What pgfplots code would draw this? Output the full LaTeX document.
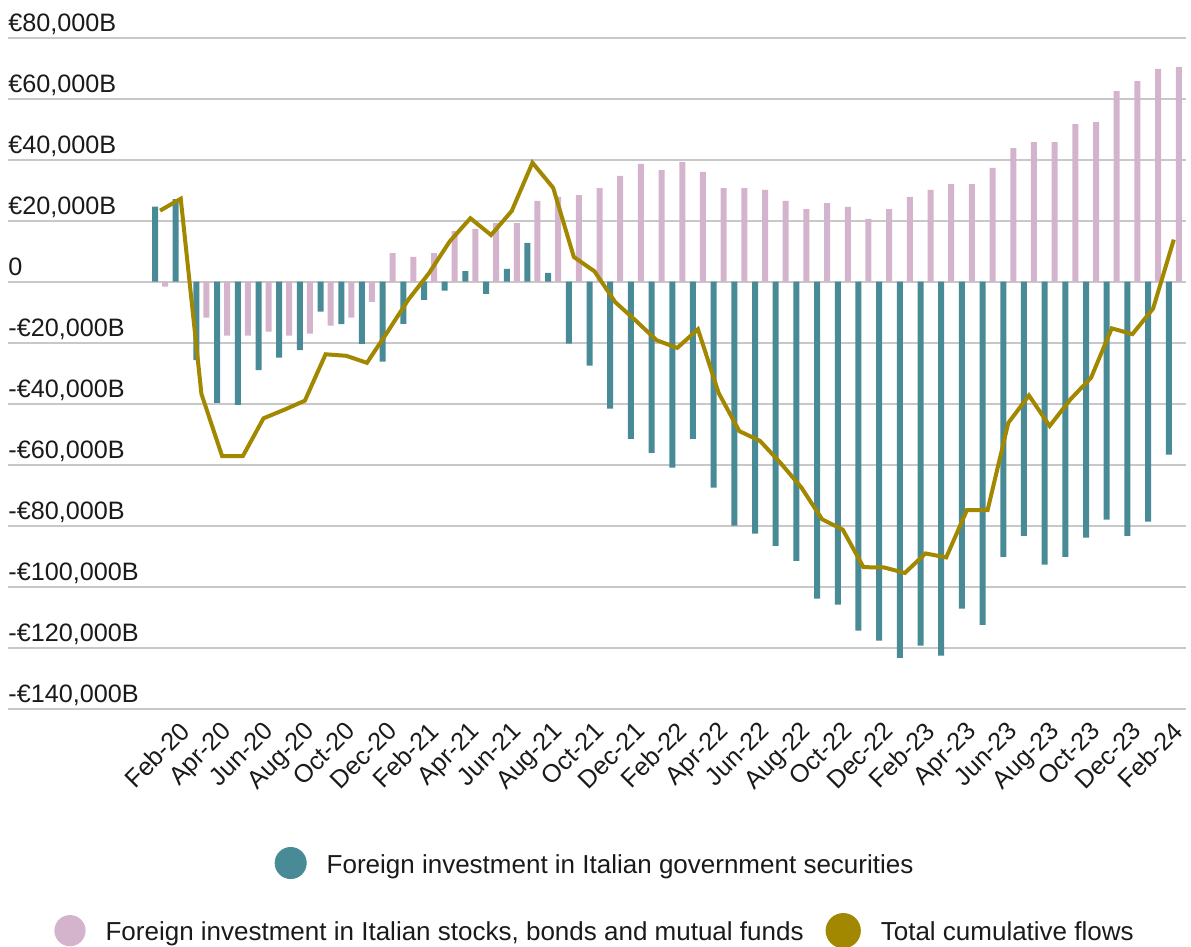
\documentclass[border=0pt]{standalone}
\usepackage{fontspec}
\setmainfont{Liberation Sans}
\usepackage{pgfplots}
\usepackage{pgfplotstable}
\pgfplotsset{compat=1.18}
\definecolor{tealc}{HTML}{488B97}
\definecolor{pinkc}{HTML}{D4B3CC}
\definecolor{olivec}{HTML}{A18800}
\definecolor{gridc}{HTML}{C8C8C8}
\definecolor{textc}{HTML}{1A1A1A}

\pgfplotstableread{
i teal pink total
0 24600 -1600 23300
1 27100 0 27200
2 -25700 -11800 -36800
3 -39700 -17700 -57200
4 -40400 -17700 -57200
5 -29000 -16400 -44800
6 -24900 -17700 -42000
7 -22400 -17000 -39000
8 -9800 -14400 -23800
9 -13900 -11800 -24300
10 -20400 -6600 -26600
11 -26200 9400 -16400
12 -13800 8100 -5900
13 -6000 9400 2800
14 -2900 16600 13200
15 3500 17300 20800
16 -4000 19200 15300
17 4200 19200 23200
18 12700 26500 39000
19 2900 27800 30800
20 -20300 28400 8100
21 -27500 30700 3400
22 -41600 34700 -6700
23 -51500 38600 -12800
24 -56100 36600 -19200
25 -61000 39200 -21700
26 -51500 36000 -15600
27 -67500 30700 -36500
28 -80000 30700 -49000
29 -82600 30100 -52200
30 -86600 26500 -59500
31 -91500 23800 -67500
32 -103900 25800 -77900
33 -105900 24500 -81300
34 -114400 20600 -93600
35 -117700 23800 -93700
36 -123300 27800 -95500
37 -119300 30100 -89100
38 -122600 32000 -90400
39 -107200 32000 -74900
40 -112500 37300 -74900
41 -90200 43800 -46300
42 -83300 45800 -37300
43 -92800 45800 -47300
44 -90200 51700 -38600
45 -83900 52400 -31500
46 -78000 62500 -15300
47 -83300 65800 -17200
48 -78700 69800 -8800
49 -56700 70400 13800
}\datatable

\pgfplotsset{
  mylegend/.style={
    draw=none, fill=none, inner sep=0pt, outer sep=0pt,
    font=\fontsize{13}{15}\selectfont, text=textc,
    nodes={inner sep=0pt},
    /tikz/every odd column/.append style={column sep=10pt},
    /tikz/every even column/.append style={column sep=11pt},
  }
}

\begin{document}
\begin{tikzpicture}
\useasboundingbox (0,0) rectangle (595.5pt,473.5pt);
\begin{axis}[
  at={(4pt,119.15pt)}, anchor=south west,
  scale only axis, width=589pt, height=335.5pt,
  xmin=-7.35, xmax=49.59, ymin=-140000, ymax=80000,
  enlargelimits=false,
  scaled y ticks=false,
  axis line style={draw=none},
  major tick length=0pt, tick style={draw=none},
  ymajorgrids, grid style={draw=gridc, line width=1pt},
  ytick={-140000,-120000,-100000,-80000,-60000,-40000,-20000,0,20000,40000,60000,80000},
  yticklabels={{-€140,000B},{-€120,000B},{-€100,000B},{-€80,000B},{-€60,000B},{-€40,000B},{-€20,000B},{0},{€20,000B},{€40,000B},{€60,000B},{€80,000B}},
  xtick={1,3,...,49},
  xticklabels={Feb-20,Apr-20,Jun-20,Aug-20,Oct-20,Dec-20,Feb-21,Apr-21,Jun-21,Aug-21,Oct-21,Dec-21,Feb-22,Apr-22,Jun-22,Aug-22,Oct-22,Dec-22,Feb-23,Apr-23,Jun-23,Aug-23,Oct-23,Dec-23,Feb-24},
  tick label style={font=\fontsize{12.6}{15}\selectfont, text=textc},
  yticklabel style={anchor=base west, inner sep=0pt, yshift=3pt},
  xticklabel style={xshift=-1pt, yshift=-5.5pt, rotate=45, anchor=north east, inner sep=0pt},
  legend columns=2,
  legend style={mylegend, at={(axis description cs:0.4975,-0.3308)}, anchor=center},
]
\addplot[ybar, bar width=3pt, bar shift=-2.5pt, fill=tealc, draw=none, forget plot] table[x=i, y=teal] {\datatable};
\addplot[ybar, bar width=3pt, bar shift=2.5pt, fill=pinkc, draw=none,
  legend image code/.code={\fill[pinkc] (7.8pt,1.2pt) circle[radius=7.8pt];}] table[x=i, y=pink] {\datatable};
\addlegendentry{Foreign investment in Italian stocks, bonds and mutual funds}
\addplot[olivec, line width=2pt, no markers,
  legend image code/.code={\fill[olivec] (7.8pt,1.2pt) circle[radius=7.8pt];}] table[x=i, y=total] {\datatable};
\addlegendentry{Total cumulative flows}
\end{axis}
\begin{axis}[
  at={(4pt,119.15pt)}, anchor=south west,
  scale only axis, width=589pt, height=335.5pt,
  hide axis, xmin=0, xmax=1, ymin=0, ymax=1,
  legend style={mylegend, at={(axis description cs:0.4975,-0.230)}, anchor=center},
]
\addlegendimage{legend image code/.code={\fill[tealc] (7.8pt,1.2pt) circle[radius=7.8pt];}}
\addlegendentry{Foreign investment in Italian government securities}
\end{axis}
\end{tikzpicture}
\end{document}
